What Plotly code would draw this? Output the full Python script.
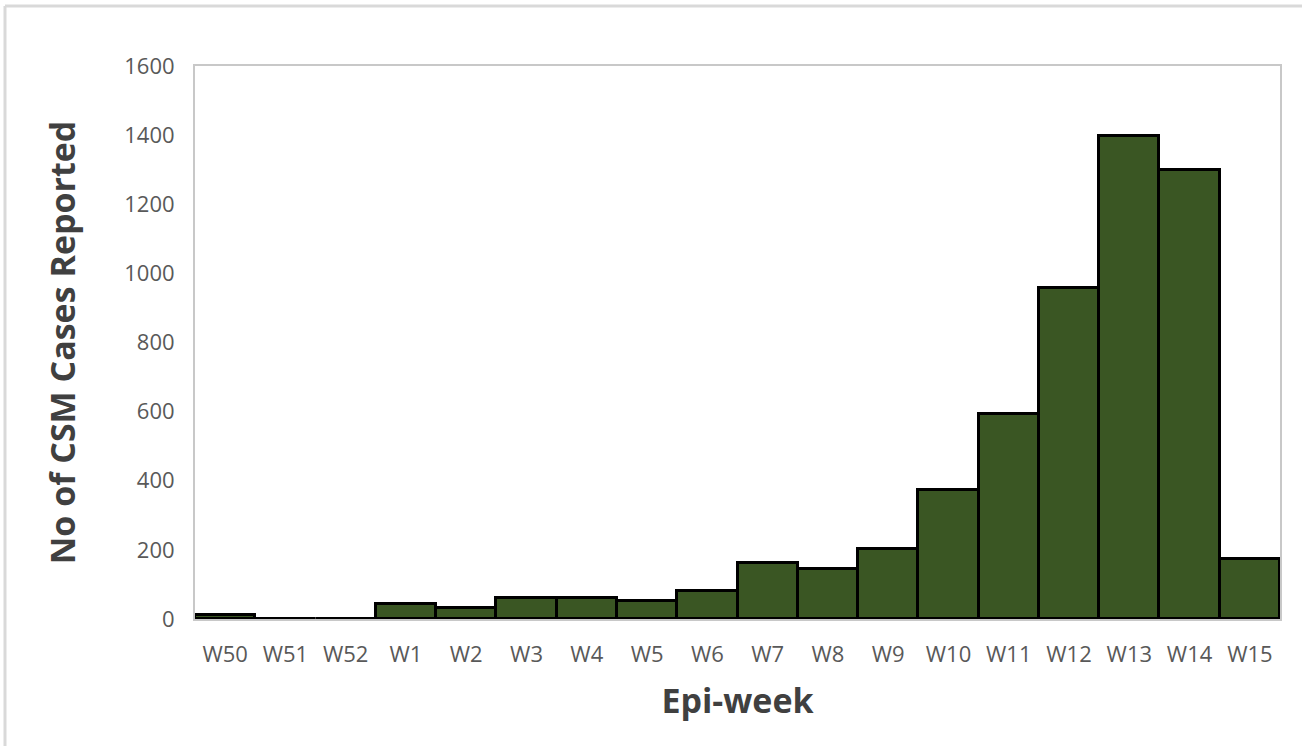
import plotly.graph_objects as go

weeks = ["W50", "W51", "W52", "W1", "W2", "W3", "W4", "W5", "W6", "W7", "W8",
         "W9", "W10", "W11", "W12", "W13", "W14", "W15"]
cases = [12, 1, 1, 43, 31, 62, 62, 52, 82, 161, 145, 202, 374, 593, 958, 1397, 1300, 173]
y_ticks = [0, 200, 400, 600, 800, 1000, 1200, 1400, 1600]

W, H = 1302, 746
ml, mr, mt, mb = 195, 22, 66, 127
pw, ph = W - ml - mr, H - mt - mb

def px(x):
    return (x - ml) / pw

def py(y):
    return 1 - (y - mt) / ph

fig = go.Figure(go.Bar(
    x=weeks, y=cases,
    marker=dict(color="#3A5623", line=dict(color="#000000", width=3)),
))

fig.update_layout(
    width=W, height=H,
    margin=dict(l=ml, r=mr, t=mt, b=mb),
    paper_bgcolor="white", plot_bgcolor="white",
    bargap=0, showlegend=False,
    font=dict(family="'Open Sans', sans-serif", color="#595959", size=22),
    xaxis=dict(
        title=dict(text="<b>Epi-week</b>", font=dict(size=34, color="#404040"), standoff=22),
        showgrid=False, showline=True, linecolor="#C8C8C8", linewidth=2, mirror=True,
        ticks="", tickfont=dict(size=22, color="#595959"), ticklabelstandoff=15,
    ),
    yaxis=dict(
        title=dict(text="<b>No of CSM Cases Reported</b>", font=dict(size=34, color="#404040"), standoff=38),
        range=[0, 1600], tickvals=y_ticks, showgrid=False,
        showline=True, linecolor="#C8C8C8", linewidth=2, mirror=True,
        ticks="", tickfont=dict(size=22, color="#595959"), zeroline=False,
        ticklabelstandoff=14,
    ),
    shapes=[
        dict(type="line", xref="paper", yref="paper",
             x0=px(5), x1=px(1310), y0=py(6), y1=py(6),
             line=dict(color="#D9D9D9", width=3), layer="below"),
        dict(type="line", xref="paper", yref="paper",
             x0=px(5), x1=px(5), y0=py(6), y1=py(760),
             line=dict(color="#D9D9D9", width=3), layer="below"),
    ],
)

fig.write_html("out.html", config={"displayModeBar": False},
               post_script="document.body.style.margin='0';document.body.style.overflow='hidden';")
